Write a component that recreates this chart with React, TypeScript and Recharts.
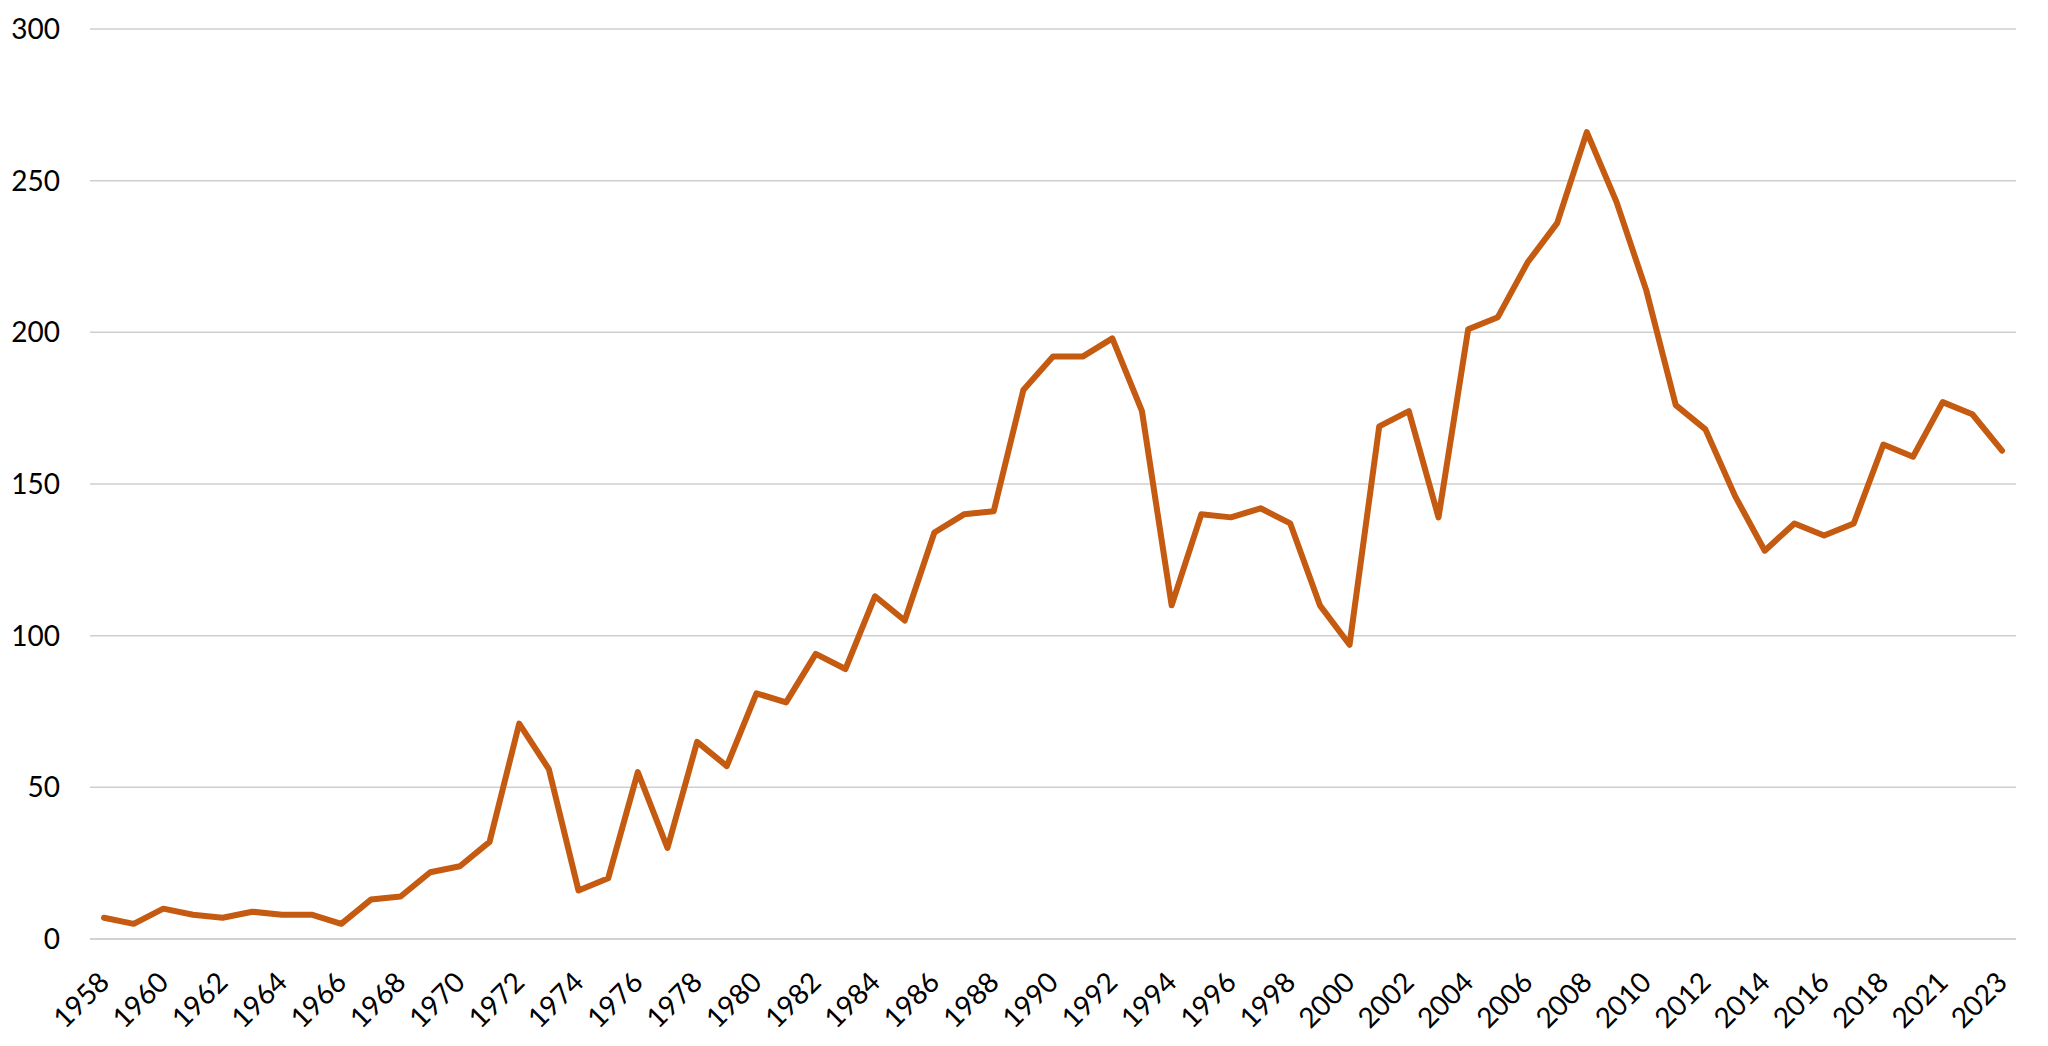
import { LineChart, Line, XAxis, YAxis, CartesianGrid } from "recharts";

const years = [
  "1958", "1959", "1960", "1961", "1962", "1963", "1964", "1965", "1966", "1967",
  "1968", "1969", "1970", "1971", "1972", "1973", "1974", "1975", "1976", "1977",
  "1978", "1979", "1980", "1981", "1982", "1983", "1984", "1985", "1986", "1987",
  "1988", "1989", "1990", "1991", "1992", "1993", "1994", "1995", "1996", "1997",
  "1998", "1999", "2000", "2001", "2002", "2003", "2004", "2005", "2006", "2007",
  "2008", "2009", "2010", "2011", "2012", "2013", "2014", "2015", "2016", "2017",
  "2018", "2020", "2021", "2022", "2023",
];

const counts = [
  7, 5, 10, 8, 7, 9, 8, 8, 5, 13,
  14, 22, 24, 32, 71, 56, 16, 20, 55, 30,
  65, 57, 81, 78, 94, 89, 113, 105, 134, 140,
  141, 181, 192, 192, 198, 174, 110, 140, 139, 142,
  137, 110, 97, 169, 174, 139, 201, 205, 223, 236,
  266, 243, 214, 176, 168, 146, 128, 137, 133, 137,
  163, 159, 177, 173, 161,
];

const yTicks = [0, 50, 100, 150, 200, 250, 300];

const data = years.map((year, i) => ({ year, value: counts[i] }));

const FONT = "Lato, 'Open Sans', sans-serif";

function YearTick({ x, y, payload }: any) {
  return (
    <text
      x={x}
      y={y}
      dy="0.35em"
      textAnchor="end"
      transform={`rotate(-45 ${x} ${y})`}
      fill="#000"
      fontSize={28}
      fontFamily={FONT}
    >
      {payload.value}
    </text>
  );
}

export default function App() {
  return (
    <div style={{ width: 2030, height: 1030, background: "#fff" }}>
      <LineChart
        width={2030}
        height={1030}
        data={data}
        margin={{ top: 21, right: 22, left: 0, bottom: 0 }}
      >
        <CartesianGrid horizontal vertical={false} stroke="#CFCFCF" strokeWidth={1.5} />
        <XAxis
          dataKey="year"
          interval={1}
          height={99}
          padding={{ left: 14, right: 14 }}
          axisLine={{ stroke: "#CFCFCF", strokeWidth: 1.5 }}
          tickLine={false}
          tickSize={0}
          tickMargin={38}
          tick={<YearTick />}
        />
        <YAxis
          width={82}
          domain={[0, 300]}
          ticks={yTicks}
          axisLine={false}
          tickLine={false}
          tickSize={0}
          tickMargin={30}
          tick={{ fontSize: 28, fill: "#000", fontFamily: FONT }}
        />
        <Line
          type="linear"
          dataKey="value"
          stroke="#C55A11"
          strokeWidth={6}
          strokeLinejoin="round"
          strokeLinecap="round"
          dot={false}
          activeDot={false}
          isAnimationActive={false}
        />
      </LineChart>
    </div>
  );
}
